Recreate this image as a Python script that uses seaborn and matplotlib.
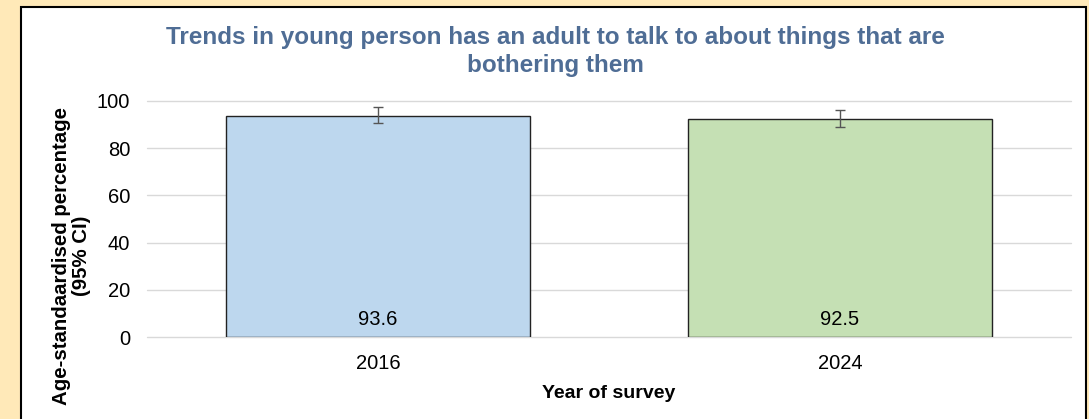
import pandas as pd
import matplotlib.pyplot as plt
import seaborn as sns
from matplotlib.patches import Rectangle

# Chart data
years = ['2016', '2024']
values = [93.6, 92.5]
ci_lower = [90.6, 89.0]
ci_upper = [97.3, 96.2]
bar_colors = ['#BDD7EE', '#C5E0B4']

df = pd.DataFrame({'year': years, 'value': values})

sns.set_style('white')
plt.rcParams['font.family'] = ['Liberation Sans', 'DejaVu Sans']

fig = plt.figure(figsize=(10.89, 4.19), dpi=100)
fig.patch.set_facecolor('#FFE9B8')

# white panel with black border
panel = Rectangle((21 / 1089, -0.05), (1086 - 21) / 1089, (419 - 7) / 419 + 0.05,
                  transform=fig.transFigure, facecolor='white', edgecolor='black',
                  linewidth=1.5, zorder=-10)
fig.patches.append(panel)

ax = fig.add_axes([147 / 1089, 1 - 337 / 419, (1071 - 147) / 1089, (337 - 101) / 419])
ax.set_facecolor('none')
ax.patch.set_alpha(0)

sns.barplot(data=df, x='year', y='value', hue='year', palette=bar_colors,
            saturation=1, width=0.66, edgecolor='#222222', linewidth=1.0,
            legend=False, ax=ax)

lower_err = [v - lo for v, lo in zip(values, ci_lower)]
upper_err = [hi - v for v, hi in zip(values, ci_upper)]
ax.errorbar(range(len(years)), values, yerr=[lower_err, upper_err], fmt='none',
            ecolor='#555555', elinewidth=1.0, capsize=3.5, capthick=1.0, zorder=5)

for i, v in enumerate(values):
    ax.text(i, 7.5, f'{v:.1f}', ha='center', va='center', fontsize=14.5, color='black')

ax.set_ylim(0, 100)
ax.set_xlim(-0.5, 1.5)
ax.set_yticks([0, 20, 40, 60, 80, 100])
ax.yaxis.grid(True, color='#D9D9D9', linewidth=1.0)
for gl in ax.get_ygridlines():
    gl.set_clip_on(False)
ax.set_axisbelow(True)
for s in ax.spines.values():
    s.set_visible(False)
ax.tick_params(axis='both', length=0, labelsize=14.5, colors='black')
ax.tick_params(axis='y', pad=12)
ax.tick_params(axis='x', pad=12)

ax.set_xlabel('Year of survey', fontsize=14, fontweight='bold', labelpad=9,
              color='black')
ax.set_ylabel('Age-standaardised percentage\n(95% CI)', fontsize=14.7,
              fontweight='bold', color='black', linespacing=1.05)
ax.yaxis.label.set_verticalalignment('center')
ax.yaxis.set_label_coords(-0.082, 0.343)

fig.text(555 / 1089, 1 - 51.5 / 419,
         'Trends in young person has an adult to talk to about things that are\nbothering them',
         ha='center', va='center', fontsize=17.5, fontweight='bold', color='#4F6D95',
         linespacing=1.25)

plt.savefig('out.png', dpi=100, facecolor=fig.get_facecolor())
plt.close()
